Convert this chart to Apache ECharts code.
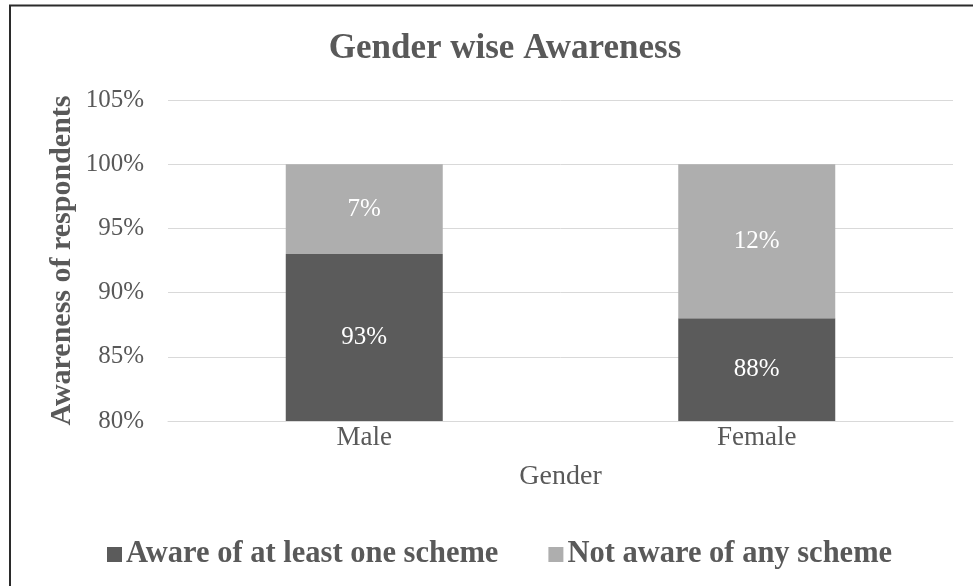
<!DOCTYPE html>
<html>
<head>
<meta charset="utf-8">
<script src="https://cdn.jsdelivr.net/npm/echarts@6/dist/echarts.min.js"></script>
<style>
  html, body { margin: 0; padding: 0; background: #ffffff; }
  #chart { width: 973px; height: 586px; }
</style>
</head>
<body>
<div id="chart"></div>
<script>
// Gender-wise awareness of schemes (percent of respondents)
const categories = ['Male', 'Female'];
const awareValues = [93, 88];
const notAwareValues = [7, 12];
const seriesNames = ['Aware of at least one scheme', 'Not aware of any scheme'];
const yTicks = { min: 80, max: 105, interval: 5 };

const SERIF = '"Liberation Serif", "DejaVu Serif", serif';
const TEXT_GRAY = '#595959';
const DARK = '#5b5b5b';
const LIGHT = '#aeaeae';

const chart = echarts.init(document.getElementById('chart'), null, { renderer: 'canvas' });

const option = {
  backgroundColor: '#ffffff',
  animation: false,
  title: {
    text: 'Gender wise Awareness',
    left: 500,
    textAlign: 'center',
    top: 26,
    textStyle: {
      fontFamily: SERIF,
      fontSize: 35,
      fontWeight: 'bold',
      color: TEXT_GRAY
    }
  },
  legend: {
    left: 102,
    top: 534,
    itemWidth: 15,
    itemHeight: 15,
    itemGap: 50,
    icon: 'rect',
    textStyle: {
      fontFamily: SERIF,
      fontSize: 30.5,
      fontWeight: 'bold',
      color: TEXT_GRAY,
      padding: [0, 0, 0, -1]
    },
    data: seriesNames
  },
  grid: {
    left: 168,
    right: 20,
    top: 100,
    bottom: 165,
    containLabel: false
  },
  xAxis: {
    type: 'category',
    data: categories,
    name: 'Gender',
    nameLocation: 'middle',
    nameGap: 42,
    nameTextStyle: {
      fontFamily: SERIF,
      fontSize: 28,
      color: TEXT_GRAY
    },
    axisLine: { show: true, lineStyle: { color: '#d9d9d9', width: 1 } },
    axisTick: { show: false },
    axisLabel: {
      margin: 3,
      fontFamily: SERIF,
      fontSize: 27,
      color: TEXT_GRAY
    }
  },
  yAxis: {
    type: 'value',
    min: yTicks.min,
    max: yTicks.max,
    interval: yTicks.interval,
    name: 'Awareness of respondents',
    nameLocation: 'middle',
    nameGap: 91,
    nameMoveOverlap: false,
    nameTextStyle: {
      fontFamily: SERIF,
      fontSize: 30,
      fontWeight: 'bold',
      color: TEXT_GRAY
    },
    axisLine: { show: false },
    axisTick: { show: false },
    axisLabel: {
      margin: 24,
      fontFamily: SERIF,
      fontSize: 25,
      color: TEXT_GRAY,
      formatter: v => v + '%'
    },
    splitLine: { show: true, lineStyle: { color: '#d9d9d9', width: 1 } }
  },
  series: [
    {
      name: seriesNames[0],
      type: 'bar',
      stack: 'total',
      barWidth: '40%',
      data: awareValues,
      itemStyle: { color: DARK },
      label: {
        show: true,
        position: 'inside',
        fontFamily: SERIF,
        fontSize: 25,
        color: '#ffffff',
        formatter: p => p.value + '%'
      }
    },
    {
      name: seriesNames[1],
      type: 'bar',
      stack: 'total',
      barWidth: '40%',
      data: notAwareValues,
      itemStyle: { color: LIGHT },
      label: {
        show: true,
        position: 'inside',
        fontFamily: SERIF,
        fontSize: 25,
        color: '#ffffff',
        formatter: p => p.value + '%'
      }
    }
  ],
  graphic: [
    {
      type: 'polyline',
      silent: true,
      shape: { points: [[10, 586], [10, 5.5], [973, 5.5]] },
      style: { stroke: '#2b2b2b', lineWidth: 2, fill: null }
    }
  ]
};

chart.setOption(option);
</script>
</body>
</html>
